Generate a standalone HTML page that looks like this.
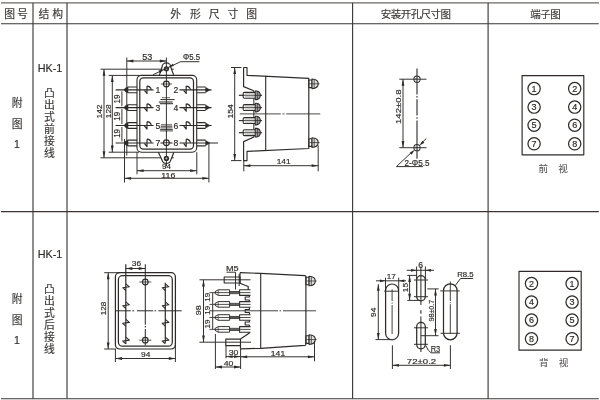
<!DOCTYPE html>
<html><head><meta charset="utf-8"><title>HK-1</title>
<style>
html,body{margin:0;padding:0;background:#fff;}
body{width:600px;height:400px;overflow:hidden;font-family:"Liberation Sans",sans-serif;}
svg{display:block;}
svg text{font-family:"Liberation Sans","Noto Sans CJK SC",sans-serif;fill:#2f2b2a;stroke:#2f2b2a;stroke-width:0.18;}
svg text.cj{fill:#3a3636;stroke:#3a3636;stroke-width:0.15;}
svg text.cv{fill:#555151;stroke:#555151;stroke-width:0.06;}
</style></head><body>
<svg width="600" height="400" viewBox="0 0 600 400" fill="#2f2b2a" stroke="#2f2b2a" stroke-linecap="butt" stroke-linejoin="round">
<title>HK-1 外形尺寸图 / 安装开孔尺寸图 / 端子图</title><desc>图号 结构 外形尺寸图 安装开孔尺寸图 端子图; 附图1 HK-1 凸出式前接线 前视; 附图1 HK-1 凸出式后接线 背视</desc><defs><filter id="bl" x="0" y="0" width="600" height="400" filterUnits="userSpaceOnUse"><feGaussianBlur stdDeviation="0.3"/></filter><filter id="tx" x="0" y="0" width="600" height="400" filterUnits="userSpaceOnUse"><feGaussianBlur stdDeviation="0.18"/></filter></defs>
<rect x="0" y="0" width="600" height="400" fill="#fff" stroke="none"/>
<g filter="url(#bl)">
<path d="M1 23.8L598.8 23.8" stroke-width="1.13" stroke="#3a3635"/>
<path d="M1 211.65L598.8 211.65" stroke-width="1.13" stroke="#3a3635"/>
<path d="M1 398.8L598.8 398.8" stroke-width="1.13" stroke="#3a3635"/>
<path d="M1 2.9L599 2.9" stroke-width="1.13" stroke="#6a6665"/>
<path d="M33 2.9L33 398.8" stroke-width="1.13" stroke="#3a3635"/>
<path d="M67 2.9L67 398.8" stroke-width="1.13" stroke="#3a3635"/>
<path d="M352.6 2.9L352.6 398.8" stroke-width="1.13" stroke="#3a3635"/>
<path d="M488.1 2.9L488.1 398.8" stroke-width="1.13" stroke="#3a3635"/>
<rect x="137" y="75.4" width="59.7" height="76.8" rx="4.4" stroke-width="1.1" fill="none"/>
<rect x="139.8" y="77.9" width="53.7" height="71.3" rx="3.6" stroke-width="1.24" fill="none"/>
<path d="M166.4 57.5L166.4 166" stroke-width="0.97"/>
<path d="M159.3 75.4L162 67.2A4.4 4.4 0 0 1 170.8 67.2L173.8 75.4" stroke-width="1.17" fill="none"/>
<circle cx="166.4" cy="68.8" r="2.1" stroke-width="1.1" fill="#2f2b2a"/>
<path d="M158.4 152.2L162.1 160.3A4.5 4.5 0 0 0 170.7 160.3L173.9 152.2" stroke-width="1.17" fill="none"/>
<circle cx="166.4" cy="158.4" r="2.1" stroke-width="1.1" fill="#2f2b2a"/>
<path d="M165.1 158.4H167.7M166.4 157.1V159.7M165.1 68.8H167.7M166.4 67.5V70.1" stroke="#fff" stroke-width="0.45"/>
<circle cx="166.4" cy="84" r="2.9" stroke-width="1.17" fill="none"/>
<path d="M160.9 84L171.9 84" stroke-width="0.83"/>
<circle cx="166.4" cy="142.7" r="2.9" stroke-width="1.17" fill="none"/>
<path d="M163.2 142.7L169.6 142.7" stroke-width="0.83"/>
<path d="M115.6 89.9L153.5 89.9" stroke-width="1.1"/>
<path d="M137 87H127.6M127.6 92.8H137" stroke-width="1.1" fill="none"/>
<path d="M128 87.1Q124.6 87.7 124.4 89.9Q124.6 92.1 128 92.7Z" stroke-width="0.55" fill="#2f2b2a"/>
<path d="M147 86.1Q150.4 86.3 151.3 89.7M147 86.1L147 93.5L144.4 90.3" stroke-width="1.17" fill="none"/>
<path d="M179.5 89.9L211.6 89.9" stroke-width="1.1"/>
<path d="M197 87H205.6M205.6 92.8H197" stroke-width="1.1" fill="none"/>
<path d="M205.6 87.3L209.9 89.9L205.6 92.5Z" stroke-width="0.55" fill="#2f2b2a"/>
<path d="M186.2 86.1Q189.6 86.3 190.5 89.7M186.2 86.1L186.2 93.5L183.6 90.3" stroke-width="1.17" fill="none"/>
<path d="M115.6 107.6L153.5 107.6" stroke-width="1.1"/>
<path d="M137 104.7H127.6M127.6 110.5H137" stroke-width="1.1" fill="none"/>
<path d="M128 104.8Q124.6 105.4 124.4 107.6Q124.6 109.8 128 110.4Z" stroke-width="0.55" fill="#2f2b2a"/>
<path d="M147 103.8Q150.4 104 151.3 107.4M147 103.8L147 111.2L144.4 108" stroke-width="1.17" fill="none"/>
<path d="M179.5 107.6L211.6 107.6" stroke-width="1.1"/>
<path d="M197 104.7H205.6M205.6 110.5H197" stroke-width="1.1" fill="none"/>
<path d="M205.6 105L209.9 107.6L205.6 110.2Z" stroke-width="0.55" fill="#2f2b2a"/>
<path d="M186.2 103.8Q189.6 104 190.5 107.4M186.2 103.8L186.2 111.2L183.6 108" stroke-width="1.17" fill="none"/>
<path d="M115.6 125.5L153.5 125.5" stroke-width="1.1"/>
<path d="M137 122.6H127.6M127.6 128.4H137" stroke-width="1.1" fill="none"/>
<path d="M128 122.7Q124.6 123.3 124.4 125.5Q124.6 127.7 128 128.3Z" stroke-width="0.55" fill="#2f2b2a"/>
<path d="M147 121.7Q150.4 121.9 151.3 125.3M147 121.7L147 129.1L144.4 125.9" stroke-width="1.17" fill="none"/>
<path d="M179.5 125.5L211.6 125.5" stroke-width="1.1"/>
<path d="M197 122.6H205.6M205.6 128.4H197" stroke-width="1.1" fill="none"/>
<path d="M205.6 122.9L209.9 125.5L205.6 128.1Z" stroke-width="0.55" fill="#2f2b2a"/>
<path d="M186.2 121.7Q189.6 121.9 190.5 125.3M186.2 121.7L186.2 129.1L183.6 125.9" stroke-width="1.17" fill="none"/>
<path d="M115.6 143L153.5 143" stroke-width="1.1"/>
<path d="M137 140.1H127.6M127.6 145.9H137" stroke-width="1.1" fill="none"/>
<path d="M128 140.2Q124.6 140.8 124.4 143Q124.6 145.2 128 145.8Z" stroke-width="0.55" fill="#2f2b2a"/>
<path d="M147 139.2Q150.4 139.4 151.3 142.8M147 139.2L147 146.6L144.4 143.4" stroke-width="1.17" fill="none"/>
<path d="M179.5 143L218 143" stroke-width="1.1"/>
<path d="M197 140.1H205.6M205.6 145.9H197" stroke-width="1.1" fill="none"/>
<path d="M205.6 140.4L209.9 143L205.6 145.6Z" stroke-width="0.55" fill="#2f2b2a"/>
<path d="M186.2 139.2Q189.6 139.4 190.5 142.8M186.2 139.2L186.2 146.6L183.6 143.4" stroke-width="1.17" fill="none"/>
<path d="M160.5 143L163.5 143" stroke-width="1.1"/>
<path d="M169.3 143L172.5 143" stroke-width="1.1"/>
<path d="M126.8 57.5L126.8 155.5" stroke-width="0.97"/>
<path d="M126.8 61L166.4 61" stroke-width="0.97"/>
<path d="M126.8 61L133.4 59.6L133.4 62.4Z" fill="#2f2b2a" stroke="none"/>
<path d="M166.4 61L159.8 62.4L159.8 59.6Z" fill="#2f2b2a" stroke="none"/>
<path d="M180.6 61.7L199.4 61.7" stroke-width="0.97"/>
<path d="M180.6 61.7L153.1 74.7" stroke-width="0.97"/>
<path d="M168.6 67.2L172.79 63.71L173.93 66.05Z" fill="#2f2b2a" stroke="none"/>
<path d="M164.2 69.3L159.78 73.01L158.55 70.5Z" fill="#2f2b2a" stroke="none"/>
<path d="M100.5 69.2L161.3 69.2" stroke-width="0.97"/>
<path d="M171.6 69.2L173.8 69.2" stroke-width="0.97"/>
<path d="M100.5 157.8L160.8 157.8" stroke-width="0.97"/>
<path d="M171.9 157.8L173.9 157.8" stroke-width="0.97"/>
<path d="M104 69.2L104 157.8" stroke-width="0.97"/>
<path d="M104 69.2L105.4 75.8L102.6 75.8Z" fill="#2f2b2a" stroke="none"/>
<path d="M104 157.8L102.6 151.2L105.4 151.2Z" fill="#2f2b2a" stroke="none"/>
<path d="M108.7 75.4L139 75.4" stroke-width="0.97"/>
<path d="M108.7 152.2L139 152.2" stroke-width="0.97"/>
<path d="M112.3 75.4L112.3 152.2" stroke-width="0.97"/>
<path d="M112.3 75.4L113.7 82L110.9 82Z" fill="#2f2b2a" stroke="none"/>
<path d="M112.3 152.2L110.9 145.6L113.7 145.6Z" fill="#2f2b2a" stroke="none"/>
<path d="M121.9 91.4L121.9 106.1" stroke-width="0.97"/>
<path d="M121.9 109.1L121.9 124" stroke-width="0.97"/>
<path d="M121.9 127L121.9 141.5" stroke-width="0.97"/>
<path d="M137 152.2L137 174.3" stroke-width="0.97"/>
<path d="M196.8 152.2L196.8 174.3" stroke-width="0.97"/>
<path d="M137 170.7L196.8 170.7" stroke-width="0.97"/>
<path d="M137 170.7L143.6 169.3L143.6 172.1Z" fill="#2f2b2a" stroke="none"/>
<path d="M196.8 170.7L190.2 172.1L190.2 169.3Z" fill="#2f2b2a" stroke="none"/>
<path d="M124.5 139L124.5 182.5" stroke-width="0.97"/>
<path d="M208.9 143L208.9 182.5" stroke-width="0.97"/>
<path d="M124.5 178.3L208.9 178.3" stroke-width="0.97"/>
<path d="M124.5 178.3L131.1 176.9L131.1 179.7Z" fill="#2f2b2a" stroke="none"/>
<path d="M208.9 178.3L202.3 179.7L202.3 176.9Z" fill="#2f2b2a" stroke="none"/>
<path d="M243.6 67.5H247V75.4L308.8 78.4V148.5L247 151.4V160.6H243.6V141.6L253.9 137M243.6 67.5V86.6L253.7 90.7" stroke-width="1.17" fill="none"/>
<path d="M265.7 75.7L265.7 150.5" stroke-width="1.1"/>
<path d="M253.8 90.5L253.8 137.3" stroke-width="0.97"/>
<path d="M238.9 95.3L262 95.3" stroke-width="0.83"/>
<path d="M255.2 92.35H244.4Q243.2 92.35 243.2 93.5V97.1Q243.2 98.25 244.4 98.25H255.2" stroke-width="1.1" fill="#fff"/>
<path d="M245 93.8L254.6 93.8" stroke-width="0.34"/>
<path d="M245 96.8L254.6 96.8" stroke-width="0.34"/>
<path d="M255.2 91H256.6Q260.3 91.7 260.3 95.3Q260.3 98.9 256.6 99.6H255.2Z" stroke-width="1.1" fill="#a9a6a5"/>
<path d="M257.4 91.4L257.4 99.2" stroke-width="0.69"/>
<path d="M238.9 95.3L262 95.3" stroke-width="0.83"/>
<path d="M238.9 107.6L262 107.6" stroke-width="0.83"/>
<path d="M255.2 104.65H244.4Q243.2 104.65 243.2 105.8V109.4Q243.2 110.55 244.4 110.55H255.2" stroke-width="1.1" fill="#fff"/>
<path d="M245 106.1L254.6 106.1" stroke-width="0.34"/>
<path d="M245 109.1L254.6 109.1" stroke-width="0.34"/>
<path d="M255.2 103.3H256.6Q260.3 104 260.3 107.6Q260.3 111.2 256.6 111.9H255.2Z" stroke-width="1.1" fill="#a9a6a5"/>
<path d="M257.4 103.7L257.4 111.5" stroke-width="0.69"/>
<path d="M238.9 107.6L262 107.6" stroke-width="0.83"/>
<path d="M238.9 120.6L262 120.6" stroke-width="0.83"/>
<path d="M255.2 117.65H244.4Q243.2 117.65 243.2 118.8V122.4Q243.2 123.55 244.4 123.55H255.2" stroke-width="1.1" fill="#fff"/>
<path d="M245 119.1L254.6 119.1" stroke-width="0.34"/>
<path d="M245 122.1L254.6 122.1" stroke-width="0.34"/>
<path d="M255.2 116.3H256.6Q260.3 117 260.3 120.6Q260.3 124.2 256.6 124.9H255.2Z" stroke-width="1.1" fill="#a9a6a5"/>
<path d="M257.4 116.7L257.4 124.5" stroke-width="0.69"/>
<path d="M238.9 120.6L262 120.6" stroke-width="0.83"/>
<path d="M238.9 132.7L262 132.7" stroke-width="0.83"/>
<path d="M255.2 129.75H244.4Q243.2 129.75 243.2 130.9V134.5Q243.2 135.65 244.4 135.65H255.2" stroke-width="1.1" fill="#fff"/>
<path d="M245 131.2L254.6 131.2" stroke-width="0.34"/>
<path d="M245 134.2L254.6 134.2" stroke-width="0.34"/>
<path d="M255.2 128.4H256.6Q260.3 129.1 260.3 132.7Q260.3 136.3 256.6 137H255.2Z" stroke-width="1.1" fill="#a9a6a5"/>
<path d="M257.4 128.8L257.4 136.6" stroke-width="0.69"/>
<path d="M238.9 132.7L262 132.7" stroke-width="0.83"/>
<path d="M239.8 113.9H320.3" stroke-width="0.85" stroke-dasharray="41 1.7 2 1.7 60"/>
<rect x="308.8" y="80" width="3.2" height="7.6" rx="0" stroke-width="1.1" fill="none"/>
<path d="M312 79Q318.2 79.2 318.2 83.8Q318.2 88.4 312 88.6Z" stroke-width="1.1" fill="#e4e2e1"/>
<path d="M314.2 79.3L314.2 88.3" stroke-width="0.76"/>
<path d="M309.3 83.8L319.6 83.8" stroke-width="0.76"/>
<rect x="308.8" y="138.8" width="3.2" height="7.6" rx="0" stroke-width="1.1" fill="none"/>
<path d="M312 137.8Q318.2 138 318.2 142.6Q318.2 147.2 312 147.4Z" stroke-width="1.1" fill="#e4e2e1"/>
<path d="M314.2 138.1L314.2 147.1" stroke-width="0.76"/>
<path d="M309.3 142.6L319.6 142.6" stroke-width="0.76"/>
<path d="M231 67.5L241.5 67.5" stroke-width="0.97"/>
<path d="M231 160.6L241.5 160.6" stroke-width="0.97"/>
<path d="M234.7 67.5L234.7 160.6" stroke-width="0.97"/>
<path d="M234.7 67.5L236.1 74.1L233.3 74.1Z" fill="#2f2b2a" stroke="none"/>
<path d="M234.7 160.6L233.3 154L236.1 154Z" fill="#2f2b2a" stroke="none"/>
<path d="M243.8 160.6L243.8 171.3" stroke-width="0.97"/>
<path d="M318.2 145.5L318.2 171.3" stroke-width="0.97"/>
<path d="M243.8 165.7L318.2 165.7" stroke-width="0.97"/>
<path d="M243.8 165.7L250.4 164.3L250.4 167.1Z" fill="#2f2b2a" stroke="none"/>
<path d="M318.2 165.7L311.6 167.1L311.6 164.3Z" fill="#2f2b2a" stroke="none"/>
<path d="M417 68.5L417 158.7" stroke-width="1.1" stroke-dasharray="25.9 1.6 1.6 1.6 16.4 1.6 1.6 1.6 60"/>
<circle cx="417" cy="79.2" r="3.1" stroke-width="1.03" fill="none"/>
<path d="M415.8 78L415.8 80.4" stroke-width="0.41"/>
<path d="M399.3 79.2L426.5 79.2" stroke-width="0.97"/>
<circle cx="417" cy="147.7" r="3.1" stroke-width="1.03" fill="none"/>
<path d="M415.8 146.5L415.8 148.9" stroke-width="0.41"/>
<path d="M399.3 147.7L426.5 147.7" stroke-width="0.97"/>
<path d="M403 79.2L403 147.7" stroke-width="0.97"/>
<path d="M403 79.2L404.4 85.8L401.6 85.8Z" fill="#2f2b2a" stroke="none"/>
<path d="M403 147.7L401.6 141.1L404.4 141.1Z" fill="#2f2b2a" stroke="none"/>
<path d="M396.4 166.6L413 151" stroke-width="0.97"/>
<path d="M421 143.6L426.3 138.5" stroke-width="0.97"/>
<path d="M414.8 149.7L411.53 154.69L409.61 152.65Z" fill="#2f2b2a" stroke="none"/>
<path d="M419.2 145.7L422.47 140.71L424.39 142.75Z" fill="#2f2b2a" stroke="none"/>
<path d="M396.4 166.6L423 166.6" stroke-width="0.97"/>
<rect x="522.1" y="75.6" width="61.7" height="79.2" rx="0" stroke-width="1.17" fill="none"/>
<circle cx="534.1" cy="88.6" r="6.15" stroke-width="1.24" fill="none"/>
<circle cx="574.7" cy="88.6" r="6.15" stroke-width="1.24" fill="none"/>
<circle cx="534.1" cy="107.1" r="6.15" stroke-width="1.24" fill="none"/>
<circle cx="574.7" cy="107.1" r="6.15" stroke-width="1.24" fill="none"/>
<circle cx="534.1" cy="125.2" r="6.15" stroke-width="1.24" fill="none"/>
<circle cx="574.7" cy="125.2" r="6.15" stroke-width="1.24" fill="none"/>
<circle cx="534.1" cy="143.8" r="6.15" stroke-width="1.24" fill="none"/>
<circle cx="574.7" cy="143.8" r="6.15" stroke-width="1.24" fill="none"/>
<rect x="115.4" y="272.7" width="60" height="76.3" rx="4.2" stroke-width="1.24" fill="none"/>
<rect x="118.4" y="275.7" width="53.9" height="70.5" rx="4" stroke-width="1.24" fill="none"/>
<path d="M125.8 264.3L125.8 344" stroke-width="1.21"/>
<path d="M145.3 264.3L145.3 345.5" stroke-width="1.03" stroke-dasharray="60.5 1.3 1.4 1.6 30"/>
<path d="M125.8 268.5L145.3 268.5" stroke-width="0.97"/>
<path d="M125.8 268.5L132.4 267.1L132.4 269.9Z" fill="#2f2b2a" stroke="none"/>
<path d="M145.3 268.5L138.7 269.9L138.7 267.1Z" fill="#2f2b2a" stroke="none"/>
<path d="M165.3 282.7L165.3 343" stroke-width="1.21"/>
<circle cx="145.3" cy="282" r="2.8" stroke-width="1.17" fill="none"/>
<path d="M139.3 282L151.3 282" stroke-width="0.83"/>
<circle cx="145.3" cy="340.2" r="2.8" stroke-width="1.17" fill="none"/>
<path d="M139.3 340.2L151.3 340.2" stroke-width="0.83"/>
<path d="M115.5 310.8H181.7" stroke-width="1.0" stroke-dasharray="15.2 1.6 1.8 2.9 16.2 1.3 1.6 2.3 30"/>
<path d="M125.8 283.8L129.4 286.8L122.7 287.7L125.8 290.5" stroke-width="1.1" fill="none"/>
<path d="M165.3 283.8L168.9 286.8L162.2 287.7L165.3 290.5" stroke-width="1.1" fill="none"/>
<path d="M125.8 301.8L129.4 304.8L122.7 305.7L125.8 308.5" stroke-width="1.1" fill="none"/>
<path d="M165.3 301.8L168.9 304.8L162.2 305.7L165.3 308.5" stroke-width="1.1" fill="none"/>
<path d="M125.8 319.4L129.4 322.4L122.7 323.3L125.8 326.1" stroke-width="1.1" fill="none"/>
<path d="M165.3 319.4L168.9 322.4L162.2 323.3L165.3 326.1" stroke-width="1.1" fill="none"/>
<path d="M125.8 337.1L129.4 340.1L122.7 341L125.8 343.8" stroke-width="1.1" fill="none"/>
<path d="M165.3 337.1L168.9 340.1L162.2 341L165.3 343.8" stroke-width="1.1" fill="none"/>
<path d="M104.2 272.7L120 272.7" stroke-width="0.97"/>
<path d="M104.2 349L116 349" stroke-width="0.97"/>
<path d="M108.2 272.7L108.2 349" stroke-width="0.97"/>
<path d="M108.2 272.7L109.6 279.3L106.8 279.3Z" fill="#2f2b2a" stroke="none"/>
<path d="M108.2 349L106.8 342.4L109.6 342.4Z" fill="#2f2b2a" stroke="none"/>
<path d="M115.4 349L115.4 362" stroke-width="0.97"/>
<path d="M175.4 343L175.4 362" stroke-width="0.97"/>
<path d="M115.4 358.5L175.4 358.5" stroke-width="0.97"/>
<path d="M115.4 358.5L122 357.1L122 359.9Z" fill="#2f2b2a" stroke="none"/>
<path d="M175.4 358.5L168.8 359.9L168.8 357.1Z" fill="#2f2b2a" stroke="none"/>
<path d="M240 272.7L260.7 273.4L304.9 275.7Q305.9 275.8 305.9 276.8V344.4Q305.9 345.3 304.9 345.4L260.7 348.3L240.5 348.9" stroke-width="1.17" fill="none"/>
<path d="M240 272.7V283.2L248.2 286.5V290" stroke-width="1.17" fill="none"/>
<path d="M260.7 273.4L260.7 348.3" stroke-width="1.1"/>
<rect x="224.2" y="277" width="15.8" height="6" rx="0" stroke-width="1.1" fill="none"/>
<path d="M199.5 279.8L250.5 279.8" stroke-width="0.97"/>
<path d="M235.5 272.2L235.5 289.5" stroke-width="0.97"/>
<path d="M239.2 274L239.2 286" stroke-width="0.97"/>
<path d="M226.5 272.2L235.5 272.2" stroke-width="0.97"/>
<path d="M209.4 292.6L250.5 292.6" stroke-width="0.83"/>
<path d="M218.2 289.8H229.6V295.4H218.2L215 293.5V291.7Z" stroke-width="0.97" fill="none"/>
<path d="M218.2 289.8L218.2 295.4" stroke-width="0.69"/>
<path d="M229.6 291.55L239.6 291.55" stroke-width="0.9"/>
<path d="M229.6 293.65L239.6 293.65" stroke-width="0.9"/>
<path d="M250.5 289.8H239.6V295.4H250.5" stroke-width="1.1" fill="none"/>
<path d="M209.4 304.4L250.5 304.4" stroke-width="0.83"/>
<path d="M218.2 301.6H229.6V307.2H218.2L215 305.3V303.5Z" stroke-width="0.97" fill="none"/>
<path d="M218.2 301.6L218.2 307.2" stroke-width="0.69"/>
<path d="M229.6 303.35L239.6 303.35" stroke-width="0.9"/>
<path d="M229.6 305.45L239.6 305.45" stroke-width="0.9"/>
<path d="M250.5 301.6H239.6V307.2H250.5" stroke-width="1.1" fill="none"/>
<path d="M209.4 317.5L250.5 317.5" stroke-width="0.83"/>
<path d="M218.2 314.7H229.6V320.3H218.2L215 318.4V316.6Z" stroke-width="0.97" fill="none"/>
<path d="M218.2 314.7L218.2 320.3" stroke-width="0.69"/>
<path d="M229.6 316.45L239.6 316.45" stroke-width="0.9"/>
<path d="M229.6 318.55L239.6 318.55" stroke-width="0.9"/>
<path d="M250.5 314.7H239.6V320.3H250.5" stroke-width="1.1" fill="none"/>
<path d="M209.4 329.4L250.5 329.4" stroke-width="0.83"/>
<path d="M218.2 326.6H229.6V332.2H218.2L215 330.3V328.5Z" stroke-width="0.97" fill="none"/>
<path d="M218.2 326.6L218.2 332.2" stroke-width="0.69"/>
<path d="M229.6 328.35L239.6 328.35" stroke-width="0.9"/>
<path d="M229.6 330.45L239.6 330.45" stroke-width="0.9"/>
<path d="M250.5 326.6H239.6V332.2H250.5" stroke-width="1.1" fill="none"/>
<path d="M249.4 295.5V297H245.2V300H249.4V301.5" stroke-width="1.1" fill="none"/>
<path d="M249.4 307.3V309.45H245.2V312.45H249.4V314.6" stroke-width="1.1" fill="none"/>
<path d="M249.4 320.4V321.95H245.2V324.95H249.4V326.5" stroke-width="1.1" fill="none"/>
<path d="M249.4 332.3V333L240.5 339.1H225.8V345.6H240.5V339.1M240.5 345.6V348.7" stroke-width="1.17" fill="none"/>
<path d="M199.4 342.2L251 342.2" stroke-width="0.97"/>
<path d="M210 310.8H316" stroke-width="0.9" stroke-dasharray="68 1.5 1.6 1.9 40"/>
<path d="M203.5 279.8L203.5 342.2" stroke-width="0.97"/>
<path d="M203.5 279.8L204.9 286.4L202.1 286.4Z" fill="#2f2b2a" stroke="none"/>
<path d="M203.5 342.2L202.1 335.6L204.9 335.6Z" fill="#2f2b2a" stroke="none"/>
<path d="M212.7 292.6L212.7 329.4" stroke-width="0.97"/>
<rect x="305.9" y="277.2" width="3.2" height="7.6" rx="0" stroke-width="1.1" fill="none"/>
<path d="M309.1 276.2Q315.3 276.4 315.3 281Q315.3 285.6 309.1 285.8Z" stroke-width="1.1" fill="#e4e2e1"/>
<path d="M311.3 276.5L311.3 285.5" stroke-width="0.76"/>
<path d="M306.4 281L316.7 281" stroke-width="0.76"/>
<rect x="305.9" y="335.8" width="3.2" height="7.6" rx="0" stroke-width="1.1" fill="none"/>
<path d="M309.1 334.8Q315.3 335 315.3 339.6Q315.3 344.2 309.1 344.4Z" stroke-width="1.1" fill="#e4e2e1"/>
<path d="M311.3 335.1L311.3 344.1" stroke-width="0.76"/>
<path d="M306.4 339.6L316.7 339.6" stroke-width="0.76"/>
<path d="M226 345.6L226 358.3" stroke-width="0.97"/>
<path d="M240.6 348.7L240.6 369" stroke-width="0.97"/>
<path d="M226 356.6L240.6 356.6" stroke-width="0.97"/>
<path d="M226 356.6L232.6 355.2L232.6 358Z" fill="#2f2b2a" stroke="none"/>
<path d="M240.6 356.6L234 358L234 355.2Z" fill="#2f2b2a" stroke="none"/>
<path d="M314.5 341L314.5 361.3" stroke-width="0.97"/>
<path d="M240.6 356.8L314.5 356.8" stroke-width="0.97"/>
<path d="M240.6 356.8L247.2 355.4L247.2 358.2Z" fill="#2f2b2a" stroke="none"/>
<path d="M314.5 356.8L307.9 358.2L307.9 355.4Z" fill="#2f2b2a" stroke="none"/>
<path d="M215.4 333.9L215.4 369" stroke-width="0.97"/>
<path d="M215.4 367L240.6 367" stroke-width="0.97"/>
<path d="M215.4 367L222 365.6L222 368.4Z" fill="#2f2b2a" stroke="none"/>
<path d="M240.6 367L234 368.4L234 365.6Z" fill="#2f2b2a" stroke="none"/>
<path d="M385.6 290.5A6.5 6.5 0 0 1 398.6 290.5V333.3A6.5 6.5 0 0 1 385.6 333.3Z" stroke-width="1.24" fill="none"/>
<path d="M443.5 290.6A6.8 6.8 0 0 1 457.1 290.6V333A6.8 6.8 0 0 1 443.5 333Z" stroke-width="1.24" fill="none"/>
<path d="M384.2 291.2L398.9 291.2" stroke-width="0.97"/>
<path d="M440.2 290.9L459.7 290.9" stroke-width="0.97"/>
<path d="M440.6 333.3L459.8 333.3" stroke-width="0.97"/>
<path d="M392.1 289.5L392.1 301" stroke-width="0.9"/>
<path d="M392.1 302.6L392.1 303.7" stroke-width="0.9"/>
<path d="M392.1 305L392.1 334" stroke-width="0.9"/>
<path d="M450.3 281.5L450.3 301" stroke-width="0.9"/>
<path d="M450.3 302.2L450.3 303.2" stroke-width="0.9"/>
<path d="M450.3 304.2L450.3 333.8" stroke-width="0.9"/>
<path d="M416.7 279.9A4.3 4.3 0 0 1 425.3 279.9V296.6A4.3 4.3 0 0 1 416.7 296.6Z" stroke-width="1.24" fill="none"/>
<path d="M416.7 326.6A4.3 4.3 0 0 1 425.3 326.6V344.6A4.3 4.3 0 0 1 416.7 344.6Z" stroke-width="1.24" fill="none"/>
<path d="M414 280L428 280" stroke-width="0.97"/>
<path d="M414 296.7L428 296.7" stroke-width="0.97"/>
<path d="M414 327.8L428 327.8" stroke-width="0.97"/>
<path d="M414 344.3L428 344.3" stroke-width="0.97"/>
<path d="M420.9 266.5L420.9 305" stroke-width="1.03"/>
<path d="M420.9 310.3L420.9 313.8" stroke-width="1.1"/>
<path d="M420.9 316.4L420.9 352" stroke-width="1.03"/>
<path d="M385.5 277.7L385.5 290" stroke-width="0.97"/>
<path d="M398.7 277.7L398.7 290" stroke-width="0.97"/>
<path d="M376 280.8L406 280.8" stroke-width="0.97"/>
<path d="M385.5 280.8L379.9 282.2L379.9 279.4Z" fill="#2f2b2a" stroke="none"/>
<path d="M398.7 280.8L404.3 279.4L404.3 282.2Z" fill="#2f2b2a" stroke="none"/>
<path d="M375.5 339.6L391 339.6" stroke-width="0.97"/>
<path d="M378.3 284.2L378.3 339.6" stroke-width="0.97"/>
<path d="M378.3 284.2L379.7 290.8L376.9 290.8Z" fill="#2f2b2a" stroke="none"/>
<path d="M378.3 339.6L376.9 333L379.7 333Z" fill="#2f2b2a" stroke="none"/>
<path d="M416.6 266.5L416.6 279" stroke-width="0.97"/>
<path d="M425.4 266.5L425.4 279" stroke-width="0.97"/>
<path d="M406.7 270.3L434 270.3" stroke-width="0.97"/>
<path d="M416.6 270.3L411 271.7L411 268.9Z" fill="#2f2b2a" stroke="none"/>
<path d="M425.4 270.3L431 268.9L431 271.7Z" fill="#2f2b2a" stroke="none"/>
<path d="M407.3 275.4L416.7 275.4" stroke-width="0.97"/>
<path d="M407.3 300.4L420 300.4" stroke-width="0.97"/>
<path d="M409.6 275.4L409.6 300.4" stroke-width="0.97"/>
<path d="M409.6 275.4L411 282L408.2 282Z" fill="#2f2b2a" stroke="none"/>
<path d="M409.6 300.4L408.2 293.8L411 293.8Z" fill="#2f2b2a" stroke="none"/>
<path d="M427.3 288.9L438.7 288.9" stroke-width="0.97"/>
<path d="M420.9 335.7L438.5 335.7" stroke-width="0.97"/>
<path d="M435.5 288.9L435.5 335.7" stroke-width="0.97"/>
<path d="M435.5 288.9L436.9 295.5L434.1 295.5Z" fill="#2f2b2a" stroke="none"/>
<path d="M435.5 335.7L434.1 329.1L436.9 329.1Z" fill="#2f2b2a" stroke="none"/>
<path d="M460.5 278.5L473.2 278.5" stroke-width="0.97"/>
<path d="M460.5 278.5L455.4 285.4" stroke-width="0.97"/>
<path d="M431 352.8L440 352.8" stroke-width="0.97"/>
<path d="M431 352.8Q428 351 425.8 345.5" stroke-width="0.97" fill="none"/>
<path d="M392.4 345.3L392.4 369" stroke-width="0.97"/>
<path d="M450.4 345.3L450.4 369" stroke-width="0.97"/>
<path d="M392.4 365.3L450.4 365.3" stroke-width="0.97"/>
<path d="M392.4 365.3L399 363.9L399 366.7Z" fill="#2f2b2a" stroke="none"/>
<path d="M450.4 365.3L443.8 366.7L443.8 363.9Z" fill="#2f2b2a" stroke="none"/>
<rect x="519" y="271.3" width="62.2" height="78.9" rx="0" stroke-width="1.17" fill="none"/>
<circle cx="531.5" cy="283.6" r="6.15" stroke-width="1.24" fill="none"/>
<circle cx="572.1" cy="283.6" r="6.15" stroke-width="1.24" fill="none"/>
<circle cx="531.5" cy="302.1" r="6.15" stroke-width="1.24" fill="none"/>
<circle cx="572.1" cy="302.1" r="6.15" stroke-width="1.24" fill="none"/>
<circle cx="531.5" cy="320.1" r="6.15" stroke-width="1.24" fill="none"/>
<circle cx="572.1" cy="320.1" r="6.15" stroke-width="1.24" fill="none"/>
<circle cx="531.5" cy="338.8" r="6.15" stroke-width="1.24" fill="none"/>
<circle cx="572.1" cy="338.8" r="6.15" stroke-width="1.24" fill="none"/>
</g>
<g filter="url(#tx)">
<path d="M162 97.7H170" stroke-width="0.7"/>
<path d="M160.4 99.6H174.6" stroke-width="1.0"/>
<path d="M158.8 102H172.6" stroke-width="1.05"/>
<path d="M159.9 103.7H173" stroke-width="1.05"/>
<path d="M160.9 124.8H172" stroke-width="0.85"/>
<path d="M160.65 126.3H172.25" stroke-width="0.85"/>
<path d="M160.4 127.9H172.5" stroke-width="0.85"/>
<path d="M160.15 129.5H172.75" stroke-width="0.85"/>
<path d="M159.9 130.9H173" stroke-width="0.85"/>
<text class="cj" x="4.2" y="18" font-size="10.8">图</text>
<text class="cj" x="17" y="18" font-size="10.8">号</text>
<text class="cj" x="38.4" y="18" font-size="10.8">结</text>
<text class="cj" x="52.2" y="18" font-size="10.8">构</text>
<text class="cj" x="170.2" y="18.1" font-size="10.8">外</text>
<text class="cj" x="189.9" y="18.1" font-size="10.8">形</text>
<text class="cj" x="208.7" y="18.1" font-size="10.8">尺</text>
<text class="cj" x="227.5" y="18.1" font-size="10.8">寸</text>
<text class="cj" x="246.2" y="18.1" font-size="10.8">图</text>
<text class="cj" x="380.75" y="17.99" font-size="10.5">安</text>
<text class="cj" x="390.71" y="17.99" font-size="10.5">装</text>
<text class="cj" x="400.67" y="17.99" font-size="10.5">开</text>
<text class="cj" x="410.63" y="17.99" font-size="10.5">孔</text>
<text class="cj" x="420.59" y="17.99" font-size="10.5">尺</text>
<text class="cj" x="430.55" y="17.99" font-size="10.5">寸</text>
<text class="cj" x="440.51" y="17.99" font-size="10.5">图</text>
<text class="cj" x="530.15" y="17.99" font-size="10.5">端</text>
<text class="cj" x="540.25" y="17.99" font-size="10.5">子</text>
<text class="cj" x="550.35" y="17.99" font-size="10.5">图</text>
<text class="cj" x="11.8" y="106.8" font-size="10.8">附</text>
<text class="cj" x="11.8" y="127.85" font-size="10.8">图</text>
<text x="17" y="148" font-size="10.5" text-anchor="middle">1</text>
<text x="50" y="72" font-size="10.81" text-anchor="middle" textLength="24.7" lengthAdjust="spacingAndGlyphs">HK-1</text>
<text class="cj" x="44.1" y="97.4" font-size="10.8">凸</text>
<text class="cj" x="44.1" y="109.3" font-size="10.8">出</text>
<text class="cj" x="44.1" y="121.2" font-size="10.8">式</text>
<text class="cj" x="44.1" y="133.1" font-size="10.8">前</text>
<text class="cj" x="44.1" y="145" font-size="10.8">接</text>
<text class="cj" x="44.1" y="156.9" font-size="10.8">线</text>
<text class="cj" x="11.8" y="302.8" font-size="10.8">附</text>
<text class="cj" x="11.8" y="323.85" font-size="10.8">图</text>
<text x="17" y="343.6" font-size="10.5" text-anchor="middle">1</text>
<text x="50" y="257.9" font-size="10.81" text-anchor="middle" textLength="24.7" lengthAdjust="spacingAndGlyphs">HK-1</text>
<text class="cj" x="44.1" y="292.8" font-size="10.8">凸</text>
<text class="cj" x="44.1" y="304.8" font-size="10.8">出</text>
<text class="cj" x="44.1" y="316.8" font-size="10.8">式</text>
<text class="cj" x="44.1" y="328.8" font-size="10.8">后</text>
<text class="cj" x="44.1" y="340.8" font-size="10.8">接</text>
<text class="cj" x="44.1" y="352.8" font-size="10.8">线</text>
<text x="157.9" y="93.15" font-size="8.6" text-anchor="middle">1</text>
<text x="175.9" y="93.15" font-size="8.6" text-anchor="middle">2</text>
<text x="157.9" y="110.85" font-size="8.6" text-anchor="middle">3</text>
<text x="175.9" y="110.85" font-size="8.6" text-anchor="middle">4</text>
<text x="157.9" y="128.75" font-size="8.6" text-anchor="middle">5</text>
<text x="175.9" y="128.75" font-size="8.6" text-anchor="middle">6</text>
<text x="157.9" y="146.25" font-size="8.6" text-anchor="middle">7</text>
<text x="175.9" y="146.25" font-size="8.6" text-anchor="middle">8</text>
<text x="147.25" y="59.9" font-size="8.24" text-anchor="middle" textLength="10" lengthAdjust="spacingAndGlyphs">53</text>
<text x="191.6" y="59.9" font-size="8.24" text-anchor="middle" textLength="17.1" lengthAdjust="spacingAndGlyphs">Φ5.5</text>
<text x="102.2" y="111.5" font-size="8.03" text-anchor="middle" transform="rotate(-90 102.2 111.5)" textLength="14.1" lengthAdjust="spacingAndGlyphs">142</text>
<text x="111" y="111.3" font-size="8.03" text-anchor="middle" transform="rotate(-90 111 111.3)" textLength="13.9" lengthAdjust="spacingAndGlyphs">128</text>
<text x="120.3" y="99.1" font-size="8.24" text-anchor="middle" transform="rotate(-90 120.3 99.1)" textLength="8.9" lengthAdjust="spacingAndGlyphs">19</text>
<text x="120.3" y="116.2" font-size="8.24" text-anchor="middle" transform="rotate(-90 120.3 116.2)" textLength="8.9" lengthAdjust="spacingAndGlyphs">19</text>
<text x="120.3" y="133.4" font-size="8.24" text-anchor="middle" transform="rotate(-90 120.3 133.4)" textLength="8.9" lengthAdjust="spacingAndGlyphs">19</text>
<text x="166.5" y="169.3" font-size="7.83" text-anchor="middle" textLength="9" lengthAdjust="spacingAndGlyphs">94</text>
<text x="168.35" y="177.6" font-size="7.83" text-anchor="middle" textLength="14" lengthAdjust="spacingAndGlyphs">116</text>
<text x="233.25" y="111.4" font-size="8.03" text-anchor="middle" transform="rotate(-90 233.25 111.4)" textLength="14.2" lengthAdjust="spacingAndGlyphs">154</text>
<text x="283.6" y="164.3" font-size="8.03" text-anchor="middle" textLength="13.9" lengthAdjust="spacingAndGlyphs">141</text>
<text x="401.25" y="106.7" font-size="7.83" text-anchor="middle" transform="rotate(-90 401.25 106.7)" textLength="34.5" lengthAdjust="spacingAndGlyphs">142±0.8</text>
<text x="404.6" y="166.2" font-size="8.24" text-anchor="start" textLength="24.9" lengthAdjust="spacingAndGlyphs">2-Φ5.5</text>
<text x="534.1" y="91.8" font-size="9" text-anchor="middle">1</text>
<text x="574.7" y="91.8" font-size="9" text-anchor="middle">2</text>
<text x="534.1" y="110.3" font-size="9" text-anchor="middle">3</text>
<text x="574.7" y="110.3" font-size="9" text-anchor="middle">4</text>
<text x="534.1" y="128.4" font-size="9" text-anchor="middle">5</text>
<text x="574.7" y="128.4" font-size="9" text-anchor="middle">6</text>
<text x="534.1" y="147" font-size="9" text-anchor="middle">7</text>
<text x="574.7" y="147" font-size="9" text-anchor="middle">8</text>
<text class="cv" x="538.6" y="172.05" font-size="9.6">前</text>
<text class="cv" x="558.2" y="172.05" font-size="9.6">视</text>
<text x="136.5" y="266.3" font-size="8.03" text-anchor="middle" textLength="9.3" lengthAdjust="spacingAndGlyphs">36</text>
<text x="106" y="308.5" font-size="8.03" text-anchor="middle" transform="rotate(-90 106 308.5)" textLength="13.7" lengthAdjust="spacingAndGlyphs">128</text>
<text x="145.7" y="357.2" font-size="8.03" text-anchor="middle" textLength="9.3" lengthAdjust="spacingAndGlyphs">94</text>
<text x="232.2" y="270.7" font-size="8.03" text-anchor="middle" textLength="12.6" lengthAdjust="spacingAndGlyphs">M5</text>
<text x="201.4" y="310.3" font-size="8.03" text-anchor="middle" transform="rotate(-90 201.4 310.3)" textLength="10.1" lengthAdjust="spacingAndGlyphs">98</text>
<text x="210.3" y="297.3" font-size="7.73" text-anchor="middle" transform="rotate(-90 210.3 297.3)" textLength="8.9" lengthAdjust="spacingAndGlyphs">19</text>
<text x="210.3" y="310.2" font-size="7.73" text-anchor="middle" transform="rotate(-90 210.3 310.2)" textLength="8.9" lengthAdjust="spacingAndGlyphs">19</text>
<text x="210.3" y="324" font-size="7.73" text-anchor="middle" transform="rotate(-90 210.3 324)" textLength="8.9" lengthAdjust="spacingAndGlyphs">19</text>
<text x="233.5" y="355.1" font-size="8.03" text-anchor="middle" textLength="9.7" lengthAdjust="spacingAndGlyphs">30</text>
<text x="278" y="355.5" font-size="8.03" text-anchor="middle" textLength="14.3" lengthAdjust="spacingAndGlyphs">141</text>
<text x="228.5" y="365.6" font-size="8.03" text-anchor="middle" textLength="9.7" lengthAdjust="spacingAndGlyphs">40</text>
<text x="391.3" y="279" font-size="8.03" text-anchor="middle" textLength="9" lengthAdjust="spacingAndGlyphs">17</text>
<text x="376.1" y="312.3" font-size="8.03" text-anchor="middle" transform="rotate(-90 376.1 312.3)" textLength="9.3" lengthAdjust="spacingAndGlyphs">94</text>
<text x="420.6" y="268" font-size="8.6" text-anchor="middle">6</text>
<text x="407.8" y="287.6" font-size="7.83" text-anchor="middle" transform="rotate(-90 407.8 287.6)" textLength="9.3" lengthAdjust="spacingAndGlyphs">15</text>
<text x="433.8" y="310.6" font-size="7.93" text-anchor="middle" transform="rotate(-90 433.8 310.6)" textLength="21.9" lengthAdjust="spacingAndGlyphs">98±0.7</text>
<text x="465.35" y="277.4" font-size="8.03" text-anchor="middle" textLength="16.4" lengthAdjust="spacingAndGlyphs">R8.5</text>
<text x="435.5" y="351.9" font-size="8.34" text-anchor="middle" textLength="9.6" lengthAdjust="spacingAndGlyphs">R3</text>
<text x="421.5" y="363.7" font-size="7.83" text-anchor="middle" textLength="29.3" lengthAdjust="spacingAndGlyphs">72±0.2</text>
<text x="531.5" y="286.8" font-size="9" text-anchor="middle">2</text>
<text x="572.1" y="286.8" font-size="9" text-anchor="middle">1</text>
<text x="531.5" y="305.3" font-size="9" text-anchor="middle">4</text>
<text x="572.1" y="305.3" font-size="9" text-anchor="middle">3</text>
<text x="531.5" y="323.3" font-size="9" text-anchor="middle">6</text>
<text x="572.1" y="323.3" font-size="9" text-anchor="middle">5</text>
<text x="531.5" y="342" font-size="9" text-anchor="middle">8</text>
<text x="572.1" y="342" font-size="9" text-anchor="middle">7</text>
<text class="cv" x="539.05" y="366.35" font-size="9.6">背</text>
<text class="cv" x="558.85" y="366.35" font-size="9.6">视</text>
</g>
</svg>
</body></html>
